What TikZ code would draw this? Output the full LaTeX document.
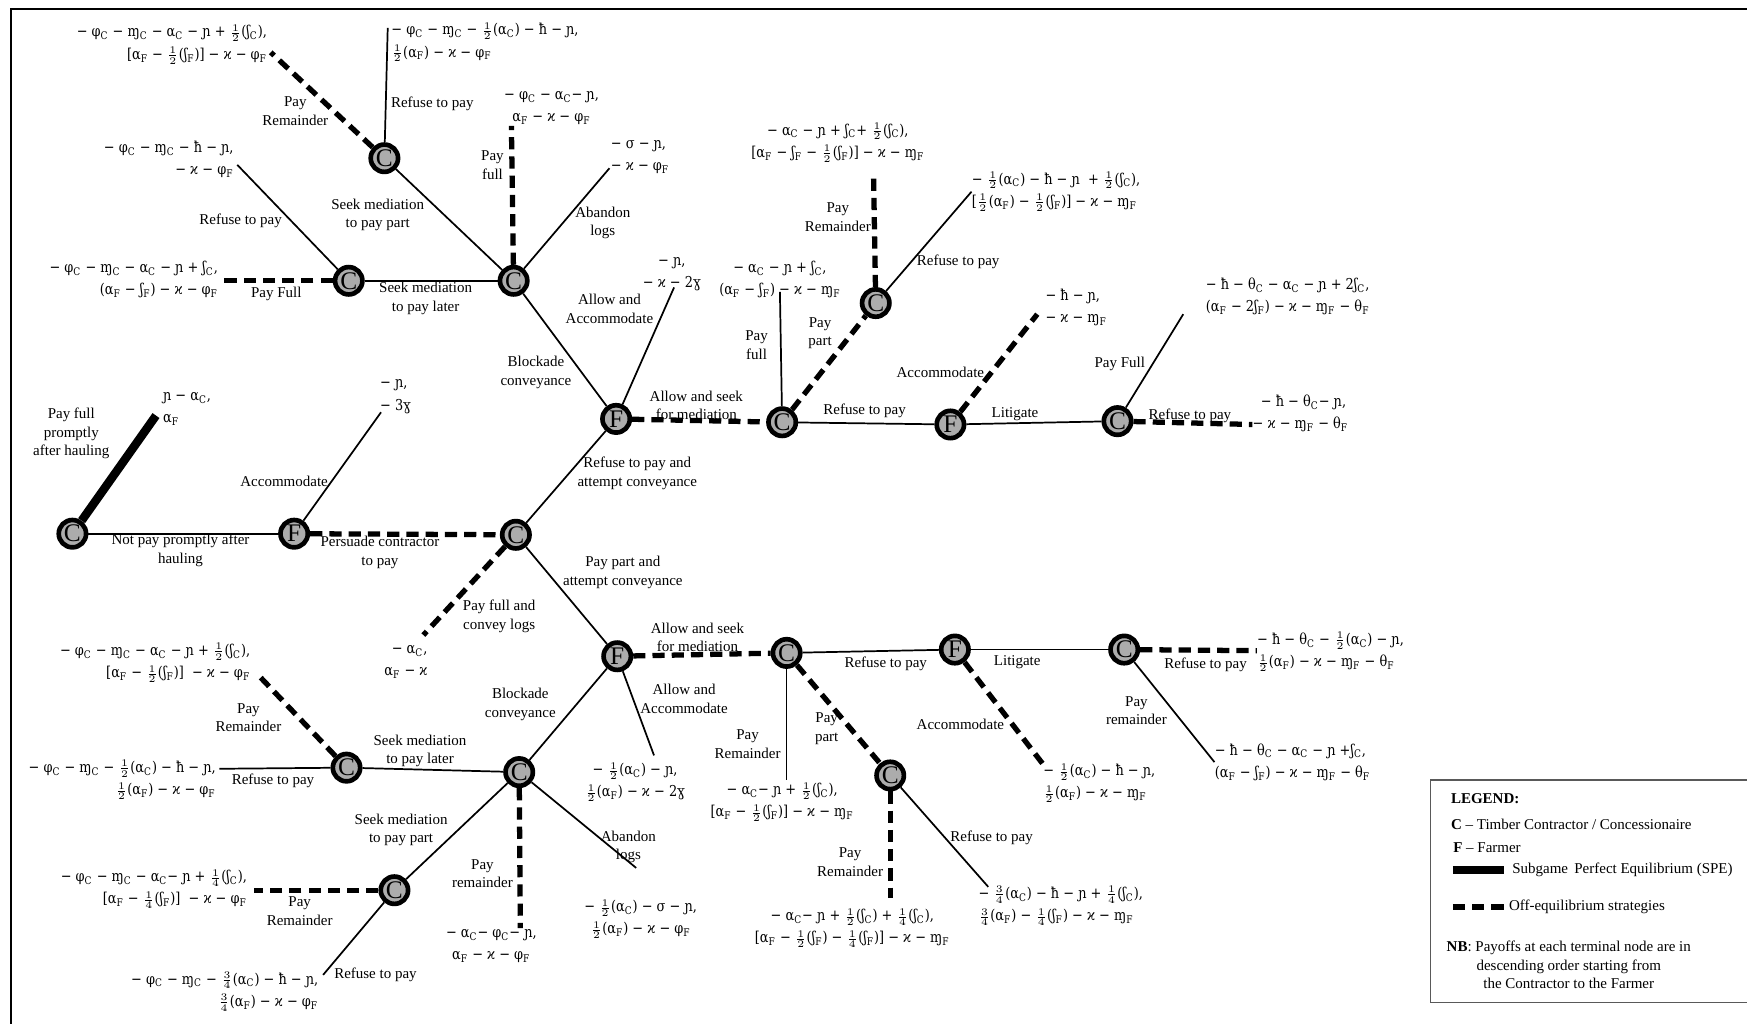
\documentclass[tikz,border=0pt]{standalone}
\usepackage{amsmath}
\usepackage{fontspec}
\setmainfont{Liberation Serif}
\newfontfamily\pf[FakeStretch=0.86]{DejaVu Serif}
\usetikzlibrary{positioning}
\newcommand{\sC}{\textsubscript{C}}
\newcommand{\sF}{\textsubscript{F}}
\newcommand{\hf}{\ensuremath{\tfrac{1}{2}}}
\newcommand{\qt}{\ensuremath{\tfrac{1}{4}}}
\newcommand{\tq}{\ensuremath{\tfrac{3}{4}}}
\begin{document}
\begin{tikzpicture}[x=0.55pt,y=-0.55pt,
  cnode/.style={circle,draw,line width=2.3pt,fill=gray!65,minimum size=13.5pt,inner sep=0pt,font=\fontsize{12.5}{12.5}\selectfont},
  plain/.style={line width=0.85pt},
  off/.style={line width=2.6pt,dash pattern=on 6pt off 3.5pt},
  spe/.style={line width=4.2pt},
  elab/.style={font=\fontsize{7.4}{9.2}\selectfont,align=center,inner sep=0pt},
  pay/.style={font=\pf\fontsize{7.4}{11}\selectfont,inner sep=0pt},
  leg/.style={font=\fontsize{7.4}{9.2}\selectfont,inner sep=0pt,anchor=west}]
\useasboundingbox (0,0) rectangle (1568,919);
\draw[line width=1.2pt] (10,919) -- (10,8) -- (1570,8);

% decision nodes
\node[cnode] (C0) at (65,479) {C};
\node[cnode] (F1) at (264,479) {F};
\node[cnode] (C2) at (463,480) {C};
\node[cnode] (F3) at (553,376) {F};
\node[cnode] (C4) at (461,252) {C};
\node[cnode] (C6) at (313,252) {C};
\node[cnode] (C7) at (345,142) {C};
\node[cnode] (C5) at (702,379) {C};
\node[cnode] (C8) at (786,272) {C};
\node[cnode] (F9) at (853,381) {F};
\node[cnode] (C10) at (1003,378) {C};
\node[cnode] (F11) at (554,589) {F};
\node[cnode] (C12) at (466,693) {C};
\node[cnode] (C14) at (311,689) {C};
\node[cnode] (C15) at (354,799) {C};
\node[cnode] (C13) at (706,586) {C};
\node[cnode] (C16) at (799,696) {C};
\node[cnode] (F17) at (857,583) {F};
\node[cnode] (C18) at (1009,583) {C};

% terminal points
\coordinate (t0) at (140,373);
\coordinate (t1) at (342,370);
\coordinate (t2) at (380,570);
\coordinate (t3) at (605,258);
\coordinate (t4) at (459,113);
\coordinate (t5) at (547,151);
\coordinate (t6) at (198,252);
\coordinate (t7) at (213,148);
\coordinate (t8) at (243,47);
\coordinate (t9) at (348,25);
\coordinate (t10) at (700,262);
\coordinate (t11) at (784,155);
\coordinate (t12) at (872,172);
\coordinate (t13) at (931,282);
\coordinate (t14) at (1062,282);
\coordinate (t15) at (1124,381);
\coordinate (t16) at (587,678);
\coordinate (t17) at (467,833);
\coordinate (t18) at (571,779);
\coordinate (t19) at (230,604);
\coordinate (t20) at (197,690);
\coordinate (t21) at (228,799);
\coordinate (t22) at (290,875);
\coordinate (t23) at (706,700);
\coordinate (t24) at (799,806);
\coordinate (t25) at (887,796);
\coordinate (t26) at (937,687);
\coordinate (t27) at (1128,584);
\coordinate (t28) at (1090,684);

% branches
\draw[spe] (C0) -- (t0);
\draw[plain] (C0) -- (F1);
\draw[plain] (F1) -- (t1);
\draw[off] (F1) -- (C2);
\draw[off] (C2) -- (t2);
\draw[plain] (C2) -- (F3);
\draw[plain] (C2) -- (F11);
\draw[plain] (F3) -- (C4);
\draw[plain] (F3) -- (t3);
\draw[off] (F3) -- (C5);
\draw[plain] (C4) -- (C6);
\draw[plain] (C4) -- (C7);
\draw[off] (C4) -- (t4);
\draw[plain] (C4) -- (t5);
\draw[off] (C6) -- (t6);
\draw[plain] (C6) -- (t7);
\draw[off] (C7) -- (t8);
\draw[plain] (C7) -- (t9);
\draw[plain] (C5) -- (t10);
\draw[off] (C5) -- (C8);
\draw[plain] (C5) -- (F9);
\draw[off] (C8) -- (t11);
\draw[plain] (C8) -- (t12);
\draw[off] (F9) -- (t13);
\draw[plain] (F9) -- (C10);
\draw[plain] (C10) -- (t14);
\draw[off] (C10) -- (t15);
\draw[plain] (F11) -- (C12);
\draw[plain] (F11) -- (t16);
\draw[off] (F11) -- (C13);
\draw[plain] (C12) -- (C14);
\draw[plain] (C12) -- (C15);
\draw[off] (C12) -- (t17);
\draw[plain] (C12) -- (t18);
\draw[off] (C14) -- (t19);
\draw[plain] (C14) -- (t20);
\draw[off] (C15) -- (t21);
\draw[plain] (C15) -- (t22);
\draw[plain] (C13) -- (t23);
\draw[off] (C13) -- (C16);
\draw[plain] (C13) -- (F17);
\draw[off] (C16) -- (t24);
\draw[plain] (C16) -- (t25);
\draw[off] (F17) -- (t26);
\draw[plain] (F17) -- (C18);
\draw[off] (C18) -- (t27);
\draw[plain] (C18) -- (t28);

% branch labels
\node[elab] (l1) at (64,389) {Pay full\\promptly\\after hauling};
\node[elab] (l2) at (162,494) {Not pay promptly after\\hauling};
\node[elab] (l3) at (255,432) {Accommodate};
\node[elab] (l4) at (341,496) {Persuade contractor\\to pay};
\node[elab] (l5) at (448,553) {Pay full and\\convey logs};
\node[elab] (l6) at (572,425) {Refuse to pay and\\attempt conveyance};
\node[elab] (l7) at (559,514) {Pay part and\\attempt conveyance};
\node[elab] (l8) at (481,334) {Blockade\\conveyance};
\node[elab] (l9) at (547,277) {Allow and\\Accommodate};
\node[elab] (l10) at (625,364) {Allow and seek\\for mediation};
\node[elab] (l11) at (382,268) {Seek mediation\\to pay later};
\node[elab] (l12) at (339,193) {Seek mediation\\to pay part};
\node[elab] (l13) at (442,148) {Pay\\full};
\node[elab] (l14) at (541,200) {Abandon\\logs};
\node[elab] (l15) at (248,264) {Pay Full};
\node[elab] (l16) at (216,198) {Refuse to pay};
\node[elab] (l17) at (265,100) {Pay\\Remainder};
\node[elab] (l18) at (388,93) {Refuse to pay};
\node[elab] (l19) at (679,310) {Pay\\full};
\node[elab] (l20) at (736,299) {Pay\\part};
\node[elab] (l21) at (752,195) {Pay\\Remainder};
\node[elab] (l22) at (860,235) {Refuse to pay};
\node[elab] (l23) at (776,369) {Refuse to pay};
\node[elab] (l24) at (844,334) {Accommodate};
\node[elab] (l25) at (911,372) {Litigate};
\node[elab] (l26) at (1005,327) {Pay Full};
\node[elab] (l27) at (1068,373) {Refuse to pay};
\node[elab] (l28) at (467,632) {Blockade\\conveyance};
\node[elab] (l29) at (614,627) {Allow and\\Accommodate};
\node[elab] (l30) at (626,572) {Allow and seek\\for mediation};
\node[elab] (l31) at (377,674) {Seek mediation\\to pay later};
\node[elab] (l32) at (360,745) {Seek mediation\\to pay part};
\node[elab] (l33) at (433,784) {Pay\\remainder};
\node[elab] (l34) at (564,760) {Abandon\\logs};
\node[elab] (l35) at (223,644) {Pay\\Remainder};
\node[elab] (l36) at (245,701) {Refuse to pay};
\node[elab] (l37) at (269,818) {Pay\\Remainder};
\node[elab] (l38) at (337,875) {Refuse to pay};
\node[elab] (l39) at (671,668) {Pay\\Remainder};
\node[elab] (l40) at (742,654) {Pay\\part};
\node[elab] (l41) at (763,774) {Pay\\Remainder};
\node[elab] (l42) at (890,752) {Refuse to pay};
\node[elab] (l43) at (795,596) {Refuse to pay};
\node[elab] (l44) at (862,650) {Accommodate};
\node[elab] (l45) at (913,594) {Litigate};
\node[elab] (l46) at (1082,597) {Refuse to pay};
\node[elab] (l47) at (1020,638) {Pay\\remainder};

% payoffs
\node[pay,align=left,anchor=west] (p0) at (146,367) {ɲ − α\sC,\\α\sF};
\node[pay,align=left] (p1) at (355,356) {− ɲ,\\− 3ɣ};
\node[pay,align=right,anchor=east] (p2) at (384,594) {− α\sC,\\α\sF{} − ϰ};
\node[pay,align=center] (p3) at (603,246) {− ɲ,\\− ϰ − 2ɣ};
\node[pay,align=center] (p4) at (495,97) {− φ\sC{} − α\sC− ɲ,\\α\sF{} − ϰ − φ\sF};
\node[pay,align=left,anchor=west] (p5) at (548,141) {− σ − ɲ,\\− ϰ − φ\sF};
\node[pay,align=right,anchor=east] (p6) at (196,251) {− φ\sC{} − ɱ\sC{} − α\sC{} − ɲ + ʃ\sC,\\(α\sF{} − ʃ\sF) − ϰ − φ\sF};
\node[pay,align=right,anchor=east] (p7) at (210,143) {− φ\sC{} − ɱ\sC{} − ħ − ɲ,\\− ϰ − φ\sF};
\node[pay,align=right,anchor=east] (p8) at (240,40) {− φ\sC{} − ɱ\sC{} − α\sC{} − ɲ + \hf(ʃ\sC),\\{[}α\sF{} − \hf(ʃ\sF)] − ϰ − φ\sF};
\node[pay,align=left,anchor=west] (p9) at (351,38) {− φ\sC{} − ɱ\sC{} − \hf(α\sC) − ħ − ɲ,\\\hf(α\sF) − ϰ − φ\sF};
\node[pay,align=center] (p10) at (700,251) {− α\sC{} − ɲ + ʃ\sC,\\(α\sF{} − ʃ\sF) − ϰ − ɱ\sF};
\node[pay,align=center] (p11) at (752,128) {− α\sC{} − ɲ + ʃ\sC+ \hf(ʃ\sC),\\{[}α\sF{} − ʃ\sF{} − \hf(ʃ\sF)] − ϰ − ɱ\sF};
\node[pay,align=left,anchor=west] (p12) at (872,172) {− \hf(α\sC) − ħ − ɲ \ + \hf(ʃ\sC),\\{[}\hf(α\sF) − \hf(ʃ\sF)] − ϰ − ɱ\sF};
\node[pay,align=left,anchor=west] (p13) at (938,276) {− ħ − ɲ,\\− ϰ − ɱ\sF};
\node[pay,align=left,anchor=west] (p14) at (1082,266) {− ħ − θ\sC{} − α\sC{} − ɲ + 2ʃ\sC,\\(α\sF{} − 2ʃ\sF) − ϰ − ɱ\sF{} − θ\sF};
\node[pay,align=left,anchor=west] (p15) at (1124,371) {\ \ − ħ − θ\sC− ɲ,\\− ϰ − ɱ\sF{} − θ\sF};
\node[pay,align=center] (p16) at (570,702) {− \hf(α\sC) − ɲ,\\\hf(α\sF) − ϰ − 2ɣ};
\node[pay,align=center] (p17) at (441,849) {− α\sC− φ\sC− ɲ,\\α\sF{} − ϰ − φ\sF};
\node[pay,align=center] (p18) at (575,825) {− \hf(α\sC) − σ − ɲ,\\\hf(α\sF) − ϰ − φ\sF};
\node[pay,align=right,anchor=east] (p19) at (225,595) {− φ\sC{} − ɱ\sC{} − α\sC{} − ɲ + \hf(ʃ\sC),\\{[}α\sF{} − \hf(ʃ\sF)] \ − ϰ − φ\sF};
\node[pay,align=right,anchor=east] (p20) at (194,700) {− φ\sC{} − ɱ\sC{} − \hf(α\sC) − ħ − ɲ,\\\hf(α\sF) − ϰ − φ\sF};
\node[pay,align=right,anchor=east] (p21) at (222,798) {− φ\sC{} − ɱ\sC{} − α\sC− ɲ + \qt(ʃ\sC),\\{[}α\sF{} − \qt(ʃ\sF)] \ − ϰ − φ\sF};
\node[pay,align=right,anchor=east] (p22) at (286,890) {− φ\sC{} − ɱ\sC{} − \tq(α\sC) − ħ − ɲ,\\\tq(α\sF) − ϰ − φ\sF};
\node[pay,align=center] (p23) at (702,720) {− α\sC− ɲ + \hf(ʃ\sC),\\{[}α\sF{} − \hf(ʃ\sF)] − ϰ − ɱ\sF};
\node[pay,align=center] (p24) at (765,833) {− α\sC− ɲ + \hf(ʃ\sC) + \qt(ʃ\sC),\\{[}α\sF{} − \hf(ʃ\sF) − \qt(ʃ\sF)] − ϰ − ɱ\sF};
\node[pay,align=left,anchor=west] (p25) at (878,813) {− \tq(α\sC) − ħ − ɲ + \qt(ʃ\sC),\\\tq(α\sF) − \qt(ʃ\sF) − ϰ − ɱ\sF};
\node[pay,align=left,anchor=west] (p26) at (936,703) {− \hf(α\sC) − ħ − ɲ,\\\hf(α\sF) − ϰ − ɱ\sF};
\node[pay,align=left,anchor=west] (p27) at (1128,585) {− ħ − θ\sC{} − \hf(α\sC) − ɲ,\\\hf(α\sF) − ϰ − ɱ\sF{} − θ\sF};
\node[pay,align=left,anchor=west] (p28) at (1090,684) {− ħ − θ\sC{} − α\sC{} − ɲ +ʃ\sC,\\(α\sF{} − ʃ\sF) − ϰ − ɱ\sF{} − θ\sF};

% legend
\draw[line width=0.6pt,gray!70!black] (1284,700) rectangle (1580,900);
\node[leg] (g1) at (1302,717) {\bfseries LEGEND:};
\node[leg] (g2) at (1302,740) {\bfseries C \mdseries – Timber Contractor / Concessionaire};
\node[leg] (g3) at (1304,761) {\bfseries F \mdseries – Farmer};
\coordinate (s1) at (1304,781);
\coordinate (s2) at (1350,781);
\draw[spe] (s1) -- (s2);
\node[leg] (g4) at (1357,781) {Subgame\, Perfect Equilibrium (SPE)};
\coordinate (d1) at (1304,814);
\coordinate (d2) at (1351,814);
\draw[off] (d1) -- (d2);
\node[leg] (g5) at (1354,814) {Off-equilibrium strategies};
\node[leg,anchor=center,align=center] (g6) at (1408,866) {\textbf{NB}: Payoffs at each terminal node are in\\descending order starting from\\the Contractor to the Farmer};
\end{tikzpicture}
\end{document}
